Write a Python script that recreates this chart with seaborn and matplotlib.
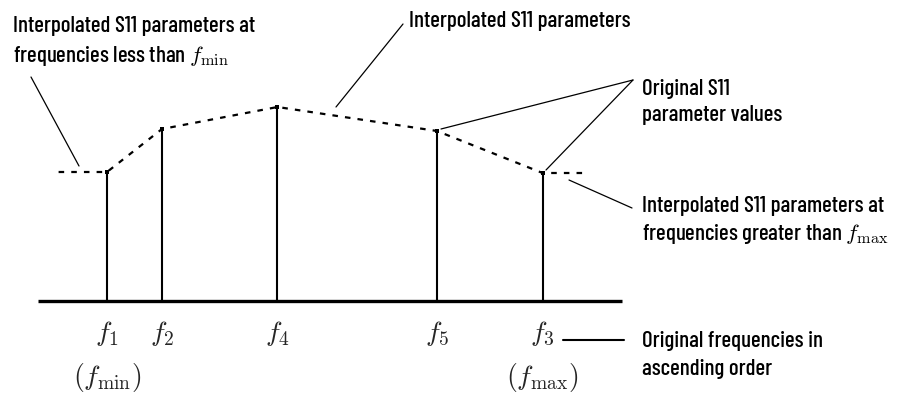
import numpy as np
import pandas as pd
import matplotlib
matplotlib.use('Agg')
import matplotlib.pyplot as plt
import matplotlib.transforms as mtransforms
import seaborn as sns

# 原始频点（标签按原始顺序，位置按频率）
freq_names = ['f_1', 'f_2', 'f_4', 'f_5', 'f_3']
freqs = [1.0, 1.5, 2.55, 4.0, 4.96]
s11 = [0.645, 0.86, 0.97, 0.85, 0.64]
# 外推区间与基线范围
f_lo, f_hi = 0.56, 5.34
base_lo, base_hi = 0.37, 5.68

sns.set_theme(style='white')
plt.rcParams['font.family'] = ['Barlow Condensed', 'DejaVu Sans']
plt.rcParams['mathtext.fontset'] = 'cm'

W, H = 898, 394
fig = plt.figure(figsize=(W / 100, H / 100), dpi=100)
ax = fig.add_axes([0, 0, 1, 1])
ax.set_xlim(3 / 110, (W + 3) / 110)
ax.set_ylim((301 - H) / 200, 301 / 200)
ax.axis('off')


def fp(x, y):
    """像素坐标(左上为原点) -> figure fraction"""
    return (x / W, 1 - y / H)


# 插值虚线（含两端外推）
df = pd.DataFrame({'freq': [f_lo] + freqs + [f_hi],
                   's11': [s11[0]] + s11 + [s11[-1]]})
sns.lineplot(data=df, x='freq', y='s11', ax=ax, color='black', lw=1.6,
             linestyle=(0, (2.5, 3.2)), sort=True)

# 原始点的竖线
ax.vlines(freqs, 0, s11, color='black', lw=1.5)
sns.scatterplot(x=freqs, y=s11, ax=ax, color='black', s=10, marker='s', linewidth=0)
ax.hlines(0, base_lo, base_hi, color='black', lw=2.4)

# 频率标签
trans = mtransforms.blended_transform_factory(ax.transData, fig.transFigure)
for f, name in zip(freqs, freq_names):
    ax.text(f, 1 - 334 / H, f'${name}$', transform=trans, ha='center', va='center', fontsize=20)
ax.text(freqs[0], 1 - 378 / H, r'$(f_{\mathrm{min}})$', transform=trans, ha='center', va='center', fontsize=20)
ax.text(freqs[-1], 1 - 378 / H, r'$(f_{\mathrm{max}})$', transform=trans, ha='center', va='center', fontsize=20)

# 引线
leaders = [((31, 77), (79, 166), 0.9),
           ((403, 24), (336, 107), 0.9),
           ((633, 80), (441, 129), 0.9),
           ((633, 80), (546, 170), 0.9),
           ((569, 180), (632, 208), 0.9),
           ((563, 340), (624, 340), 1.5)]
for a, b, lw in leaders:
    ax.annotate('', xy=fp(*b), xytext=fp(*a), xycoords='figure fraction',
                textcoords='figure fraction',
                arrowprops=dict(arrowstyle='-', lw=lw, color='black',
                                shrinkA=0, shrinkB=0))

# 说明文字
notes = [(13, 32, 'Interpolated S11 parameters at'),
         (13, 62, r'frequencies less than $f_{\mathrm{min}}$'),
         (409, 27, 'Interpolated S11 parameters'),
         (642, 95, 'Original S11'),
         (642, 121, 'parameter values'),
         (642, 212, 'Interpolated S11 parameters at'),
         (642, 240, r'frequencies greater than $f_{\mathrm{max}}$'),
         (642, 347, 'Original frequencies in'),
         (642, 375, 'ascending order')]
for x, y, s in notes:
    fig.text(*fp(x, y), s, ha='left', va='baseline', fontsize=16.5, fontweight='medium', color='black')

fig.savefig('out.png', dpi=100, facecolor='white')
